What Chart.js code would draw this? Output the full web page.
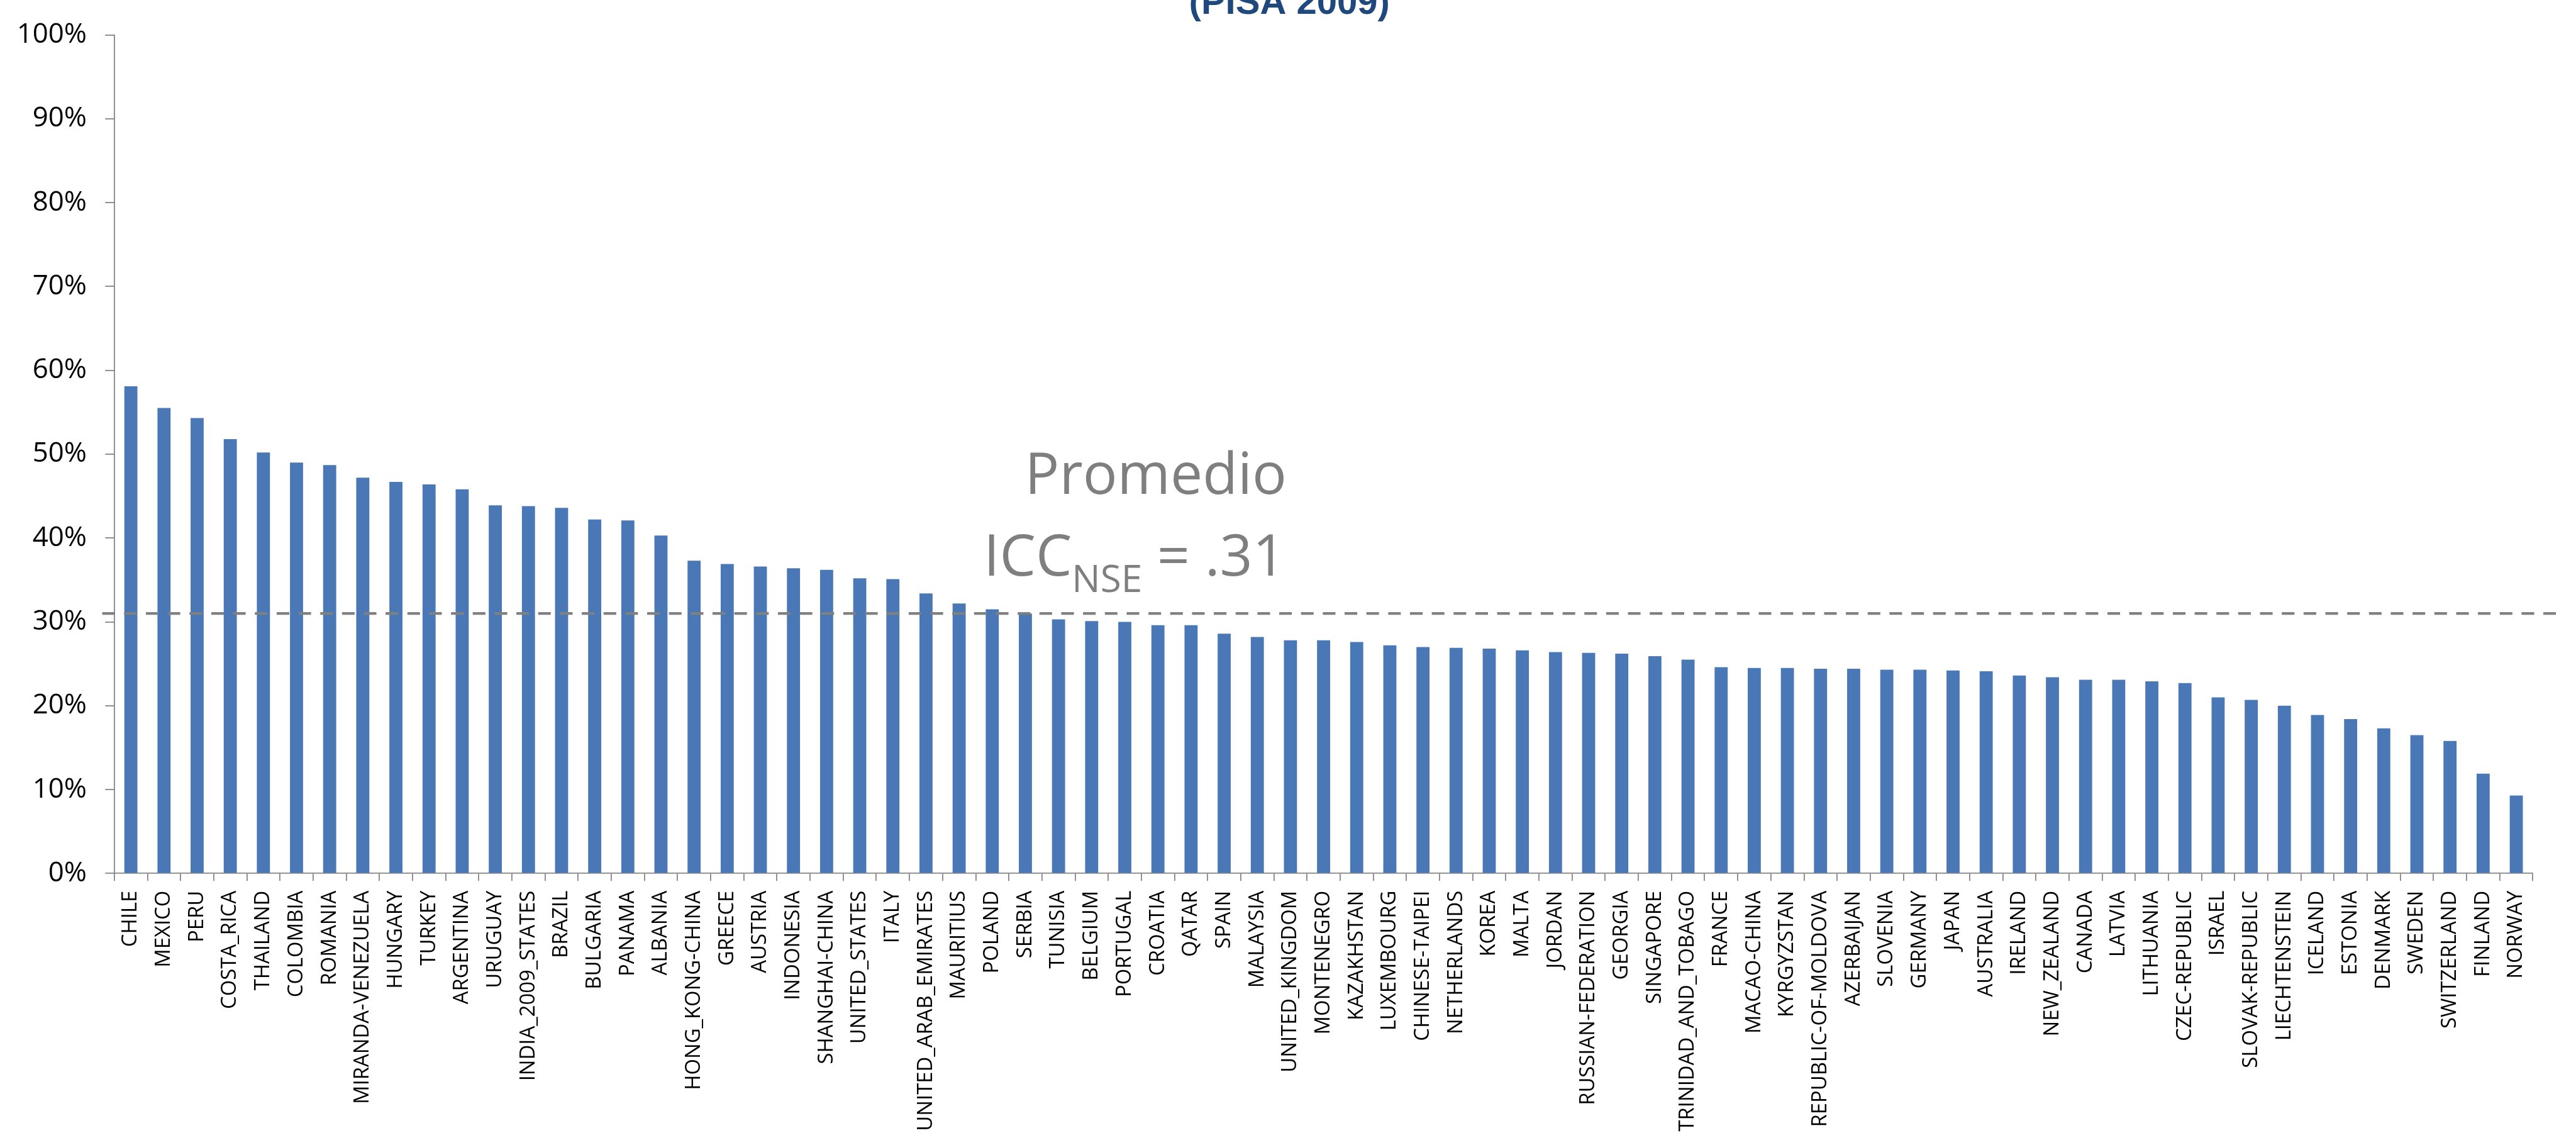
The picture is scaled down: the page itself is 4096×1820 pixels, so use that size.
<!DOCTYPE html>
<html>
<head>
<meta charset="utf-8">
<title>ICC NSE por país (PISA 2009)</title>
<script src="https://cdn.jsdelivr.net/npm/chart.js@4.4.1/dist/chart.umd.min.js"></script>
<style>
  html, body { margin: 0; padding: 0; background: #fff; overflow: hidden; }
  canvas { display: block; }
</style>
</head>
<body>
<canvas id="barChart" width="4096" height="1820"></canvas>
<script>
// paises ordenados de mayor a menor ICC
var paises = [
  "CHILE", "MEXICO", "PERU", "COSTA_RICA", "THAILAND", "COLOMBIA", "ROMANIA",
  "MIRANDA-VENEZUELA", "HUNGARY", "TURKEY", "ARGENTINA", "URUGUAY",
  "INDIA_2009_STATES", "BRAZIL", "BULGARIA", "PANAMA", "ALBANIA",
  "HONG_KONG-CHINA", "GREECE", "AUSTRIA", "INDONESIA", "SHANGHAI-CHINA",
  "UNITED_STATES", "ITALY", "UNITED_ARAB_EMIRATES", "MAURITIUS", "POLAND",
  "SERBIA", "TUNISIA", "BELGIUM", "PORTUGAL", "CROATIA", "QATAR", "SPAIN",
  "MALAYSIA", "UNITED_KINGDOM", "MONTENEGRO", "KAZAKHSTAN", "LUXEMBOURG",
  "CHINESE-TAIPEI", "NETHERLANDS", "KOREA", "MALTA", "JORDAN",
  "RUSSIAN-FEDERATION", "GEORGIA", "SINGAPORE", "TRINIDAD_AND_TOBAGO",
  "FRANCE", "MACAO-CHINA", "KYRGYZSTAN", "REPUBLIC-OF-MOLDOVA", "AZERBAIJAN",
  "SLOVENIA", "GERMANY", "JAPAN", "AUSTRALIA", "IRELAND", "NEW_ZEALAND",
  "CANADA", "LATVIA", "LITHUANIA", "CZEC-REPUBLIC", "ISRAEL",
  "SLOVAK-REPUBLIC", "LIECHTENSTEIN", "ICELAND", "ESTONIA", "DENMARK",
  "SWEDEN", "SWITZERLAND", "FINLAND", "NORWAY"
];

var icc = [
  0.581, 0.555, 0.543, 0.518, 0.502, 0.490, 0.487,
  0.472, 0.467, 0.464, 0.458, 0.439,
  0.438, 0.436, 0.422, 0.421, 0.403,
  0.373, 0.369, 0.366, 0.364, 0.362,
  0.352, 0.351, 0.334, 0.322, 0.315,
  0.310, 0.303, 0.301, 0.300, 0.296, 0.296, 0.286,
  0.282, 0.278, 0.278, 0.276, 0.272,
  0.270, 0.269, 0.268, 0.266, 0.264,
  0.263, 0.262, 0.259, 0.255,
  0.246, 0.245, 0.245, 0.244, 0.244,
  0.243, 0.243, 0.242, 0.241, 0.236, 0.234,
  0.231, 0.231, 0.229, 0.227, 0.210,
  0.207, 0.200, 0.189, 0.184, 0.173,
  0.165, 0.158, 0.119, 0.093
];

var etiquetasY = ["0%", "10%", "20%", "30%", "40%", "50%", "60%", "70%", "80%", "90%", "100%"];

var promedio = 0.31;
var titulo = "(PISA 2009)";

// todo se dibuja a escala
var S = 0.912;
var GRIS_EJE = "#868686";

var anotaciones = {
  id: "anotaciones",
  afterDatasetsDraw: function(chart) {
    var ctx = chart.ctx;
    var area = chart.chartArea;
    var y = chart.scales.y.getPixelForValue(promedio);
    // linea del promedio
    ctx.save();
    ctx.strokeStyle = "#808080";
    ctx.lineWidth = 4.5 * S;
    ctx.setLineDash([22 * S, 16 * S]);
    ctx.beginPath();
    ctx.moveTo(area.left - 21 * S, y);
    ctx.lineTo(area.right + 55 * S, y);
    ctx.stroke();
    ctx.restore();
  },
  afterDraw: function(chart) {
    var ctx = chart.ctx;
    ctx.save();

    // titulo (cortado arriba)
    ctx.fillStyle = "#1F497D";
    ctx.font = "bold " + (63.6 * S) + "px 'Liberation Sans', Arial, sans-serif";
    ctx.textAlign = "center";
    ctx.textBaseline = "alphabetic";
    ctx.fillText(titulo, 2248 * S, 24 * S);

    // texto del promedio
    var fuente = (100 * S) + "px 'Open Sans', sans-serif";
    var fuenteSub = (66 * S) + "px 'Open Sans', sans-serif";
    ctx.fillStyle = "#7F7F7F";
    ctx.font = fuente;
    ctx.fillText("Promedio", 2015 * S, 861 * S);

    var valor = " = ." + Math.round(promedio * 100);
    ctx.textAlign = "left";
    var wIcc = ctx.measureText("ICC").width;
    var wResto = ctx.measureText(valor).width;
    ctx.font = fuenteSub;
    var wSub = ctx.measureText("NSE").width;
    var x = 1978 * S - (wIcc + wSub + wResto) / 2;
    var base = 1003 * S;

    ctx.font = fuente;
    ctx.fillText("ICC", x, base);
    x += wIcc;
    ctx.font = fuenteSub;
    ctx.fillText("NSE", x, base + 29 * S);
    x += wSub;
    ctx.font = fuente;
    ctx.fillText(valor, x, base);

    ctx.restore();
  }
};

var ctx = document.getElementById("barChart").getContext("2d");
new Chart(ctx, {
  type: "bar",
  data: {
    labels: paises,
    datasets: [{
      label: "ICC NSE",
      data: icc,
      backgroundColor: "#4A78B6",
      borderWidth: 0,
      barPercentage: 0.395,
      categoryPercentage: 1
    }]
  },
  options: {
    responsive: false,
    animation: false,
    devicePixelRatio: 1,
    layout: {
      padding: { left: 0, top: 35 * S, right: 4096 - 4416 * S, bottom: 0 }
    },
    plugins: {
      legend: { display: false },
      tooltip: { enabled: false },
      title: { display: false }
    },
    scales: {
      x: {
        ticks: {
          autoSkip: false,
          minRotation: 90,
          maxRotation: 90,
          color: "#000",
          padding: 17 * S,
          font: { family: "'Open Sans', sans-serif", size: 36 * S }
        },
        grid: {
          offset: true,
          drawOnChartArea: false,
          tickLength: 13 * S,
          color: GRIS_EJE,
          lineWidth: 2 * S
        },
        border: { display: true, color: GRIS_EJE, width: 2 * S },
        afterFit: function(scale) { scale.height = 1820 - 1522.3 * S; }
      },
      y: {
        min: 0,
        max: 1,
        ticks: {
          stepSize: 0.1,
          color: "#000",
          padding: 32 * S,
          font: { family: "'Open Sans', sans-serif", size: 48 * S },
          callback: function(v, i) { return etiquetasY[i]; }
        },
        grid: {
          drawOnChartArea: false,
          tickLength: 16 * S,
          color: GRIS_EJE,
          lineWidth: 2 * S
        },
        border: { display: true, color: GRIS_EJE, width: 2 * S },
        afterFit: function(scale) { scale.width = 199.3 * S; }
      }
    }
  },
  plugins: [anotaciones]
});
</script>
</body>
</html>
